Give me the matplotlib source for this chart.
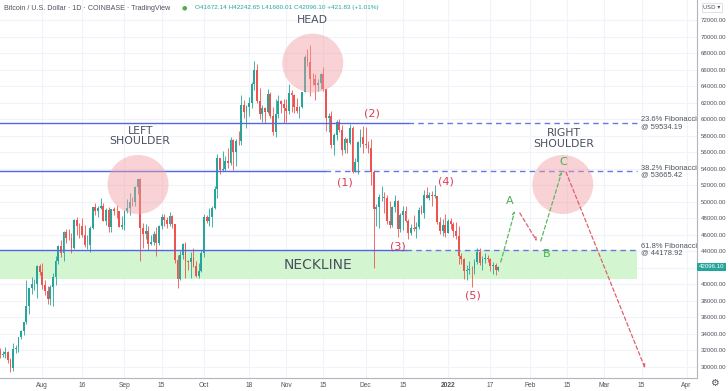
import numpy as np
import matplotlib.pyplot as plt
from matplotlib.patches import Ellipse
from matplotlib.transforms import blended_transform_factory

# 日线数据 BTC/USD (Coinbase), 2021-07-16 起, 横轴用“距 2021-08-01 的天数”
first_open = 31870
close_jul = [31390, 31530, 31790, 30820, 29800, 32130, 32290, 33640, 34270, 35400, 37300, 39550, 40010, 40030, 42240, 41460]
high_jul = [32250, 31950, 32440, 31890, 31060, 32840, 32600, 33650, 34500, 35400, 40550, 39550, 40900, 40630, 42300, 42410]
low_jul = [31020, 31160, 31100, 30480, 29300, 29490, 31720, 31760, 33400, 33900, 35220, 36400, 38800, 39290, 38320, 41060]

close_aug = [39870, 39150, 38190, 39720, 40890, 42850, 44630, 43810, 46290, 45600, 45570, 44430, 47830, 47100, 47020, 45940,
             44700, 44740, 46760, 49320, 48870, 49270, 49530, 47700, 48950, 46880, 49100, 48900, 48830, 46990, 47140]
high_aug = [42600, 40450, 39780, 39960, 41390, 43390, 44700, 45310, 46450, 46680, 46750, 46220, 47880, 48130, 47370, 48060,
            47150, 46000, 47060, 49360, 49800, 49500, 50500, 49850, 49250, 49380, 49170, 49330, 49660, 48900, 48250]
low_aug = [39430, 38690, 37640, 37510, 37360, 39850, 42450, 43290, 42840, 44980, 45370, 43800, 44250, 45950, 45550, 45700,
           44450, 44250, 43950, 46650, 48330, 48110, 49070, 47600, 47150, 46350, 46370, 48420, 48000, 46900, 46720]

close_sep = [48850, 49280, 49990, 49920, 51790, 52700, 46860, 46070, 46390, 44850, 45160, 46030, 44950, 47110, 48140,
             47770, 47290, 48310, 47260, 42980, 40690, 43590, 44900, 42830, 42720, 43190, 42200, 41030, 41540, 43790]
high_sep = [49000, 50380, 51000, 50540, 51900, 52800, 52920, 47370, 47350, 47040, 45960, 46440, 46880, 47230, 48450,
            48470, 48150, 48800, 48370, 47330, 43600, 44000, 44990, 45150, 42980, 43950, 44350, 42780, 42610, 44150]
low_sep = [46540, 48640, 48400, 49500, 49500, 50970, 42830, 44420, 45500, 44160, 44750, 44780, 43430, 44750, 46750,
           47060, 46770, 47080, 46850, 42520, 39600, 40560, 43100, 40740, 41720, 40800, 42100, 40900, 40760, 41460]

close_oct = [48140, 47690, 48200, 49240, 51490, 55340, 53800, 53930, 54970, 54700, 57490, 56000, 57370, 57350, 61670, 60880,
             61530, 61990, 64280, 66000, 62210, 60690, 61300, 60860, 63080, 60330, 58460, 60590, 62260, 61880, 61320]
high_oct = [48450, 48330, 49230, 49490, 51880, 55750, 55340, 56100, 55490, 56560, 57800, 57660, 57650, 58560, 62930, 62330,
            61740, 62690, 64490, 67000, 66640, 63730, 61700, 61480, 63710, 63290, 61500, 62500, 62940, 62360, 62440]
low_oct = [43310, 47450, 47100, 46970, 49060, 50400, 53400, 53680, 53700, 54110, 54430, 53880, 54300, 56850, 56880, 60170,
           58960, 60340, 61350, 63500, 62000, 60000, 59700, 59590, 60700, 60100, 58080, 57810, 60150, 60740, 59500]

close_nov = [61000, 63230, 62940, 61440, 61000, 61530, 63310, 67550, 66940, 64930, 64840, 64150, 64400, 65500, 63600,
             60100, 60370, 56890, 58120, 59720, 58690, 56300, 57580, 57170, 58950, 53660, 54760, 57290, 57810, 57000]
high_nov = [62420, 64290, 63510, 63080, 62600, 61560, 63310, 67780, 68530, 69000, 65600, 65460, 64930, 65540, 66300,
            63600, 60800, 60960, 58340, 59860, 60000, 59270, 57840, 57720, 59400, 59180, 55280, 57400, 58850, 59200]
low_nov = [59700, 60650, 60900, 60700, 60780, 60100, 61400, 63310, 66400, 62800, 64130, 62300, 63400, 63600, 63400,
           58600, 58400, 56500, 55630, 57430, 58500, 55650, 55850, 55900, 57010, 53500, 53630, 53330, 56680, 55880]

close_dec = [56930, 56550, 53630, 49170, 49400, 50570, 50590, 50500, 47660, 47140, 49400, 50100, 46700, 48380, 48870, 47630,
             46200, 46870, 46680, 46890, 48940, 48620, 50820, 50420, 50800, 50700, 50700, 47540, 46470, 47130, 46220]
high_dec = [59100, 57400, 57570, 53880, 49730, 50930, 51920, 51200, 50800, 50100, 49480, 50790, 50230, 48600, 49460, 49420,
            47950, 47320, 48330, 47550, 49300, 49580, 51380, 51820, 51160, 51270, 52050, 50710, 48120, 47900, 48550]
low_dec = [56500, 55900, 52040, 42000, 47100, 46770, 50090, 48640, 47350, 46870, 46900, 48700, 45760, 46300, 46600, 47540,
           45480, 45980, 46420, 45580, 46640, 48460, 48050, 50410, 50200, 49440, 50470, 47320, 46110, 45900, 45680]

close_jan = [47720, 47300, 46450, 45830, 43440, 43100, 41560, 41690, 41880, 41840, 42740, 43920, 42600, 43100, 43180,
             43110, 42250, 42370, 41672.14, 42096.10]
high_jan = [47920, 47990, 47550, 47510, 47070, 43750, 43140, 42300, 42800, 42250, 43100, 44350, 44440, 43450, 43800,
            43500, 43200, 42700, 42580, 42242.65]
low_jan = [46220, 46660, 45700, 45500, 42500, 42440, 40600, 40510, 41250, 39650, 41280, 42430, 42330, 41750, 42600,
           42650, 41560, 41270, 41160, 41660.01]

# 斐波那契水平线
fib_levels = [59534.19, 53665.42, 44178.92]
fib_names = ['23.6%', '38.2%', '61.8%']
fib_solid_end = [137.9, 106.6, 137.0]
fib_end = 224.3
zone_low = 40630

# 预测路径 (天数, 价格)
proj_days = [172.9, 178.2, 180.1, 186.5, 188.0, 195.9, 197.5, 227.3]
proj_prices = [42690, 48870, 48630, 45230, 45230, 53600, 53600, 29840]

# 坐标轴刻度
date_ticks = [0, 15, 31, 45, 61, 78, 92, 106, 122, 136, 153, 169, 184, 198, 212, 226, 243]
date_labels = ['Aug', '16', 'Sep', '15', 'Oct', '18', 'Nov', '15', 'Dec', '15', '2022', '17', 'Feb', '15', 'Mar', '15', 'Apr']
price_ticks = list(range(30000, 72001, 2000))

closes = np.array(close_jul + close_aug + close_sep + close_oct + close_nov + close_dec + close_jan)
highs = np.array(high_jul + high_aug + high_sep + high_oct + high_nov + high_dec + high_jan)
lows = np.array(low_jul + low_aug + low_sep + low_oct + low_nov + low_dec + low_jan)
opens = np.concatenate([[first_open], closes[:-1]])
days = np.arange(-16, -16 + len(closes))

UP = '#26a69a'
DOWN = '#ef5350'
TXT = '#50535e'
SMALL = ['Liberation Sans', 'DejaVu Sans']

fig = plt.figure(figsize=(7.28, 3.91), dpi=100)
ax = fig.add_axes([0, 13.3 / 391, 696.7 / 728, 377.7 / 391])
ax.set_xlim(-15.95, 246.8)
ax.set_ylim(28667, 74448)

# 网格
for t in date_ticks:
    ax.axvline(t, color='#f0f3fa', lw=0.8, zorder=0)
for p in price_ticks:
    ax.axhline(p, color='#f0f3fa', lw=0.8, zorder=0)

# 颈线区域
ax.fill_between([-16, fib_end], zone_low, fib_levels[2], color='#d3f5cf', lw=0, zorder=1)

# K线
cols = np.where(closes >= opens, UP, DOWN)
hi = np.maximum(highs, np.maximum(opens, closes))
lo = np.minimum(lows, np.minimum(opens, closes))
ax.vlines(days, lo, hi, colors=cols, lw=0.6, zorder=2)
body_lo = np.minimum(opens, closes)
body_h = np.maximum(np.abs(closes - opens), 60)
ax.bar(days, body_h, bottom=body_lo, width=0.7, color=cols, lw=0, zorder=2)

# 斐波那契线
for lvl, name, s_end in zip(fib_levels, fib_names, fib_solid_end):
    ax.plot([-16, s_end], [lvl, lvl], color='#5466e0', lw=1.0, zorder=3)
    ax.plot([s_end, fib_end], [lvl, lvl], color='#6677e6', lw=1.0, ls=(0, (4, 3)), zorder=3)
    ax.text(fib_end + 1.4, lvl, f'{name} Fibonacci\n@ {lvl:.2f}', fontsize=5.4, color=TXT, family=SMALL,
            va='center', ha='left', linespacing=0.95, zorder=5)

# 头肩椭圆
for cx, cy in [(36.1, 52085), (102.0, 66800), (196.3, 52085)]:
    ax.add_patch(Ellipse((cx, cy), 23, 7150, facecolor='#f29ca2', edgecolor='none', alpha=0.45, zorder=4))

# 预测路径
for i in range(0, len(proj_days), 2):
    c = '#5cb860' if i % 4 == 0 else '#e0606e'
    ax.annotate('', xy=(proj_days[i + 1], proj_prices[i + 1]), xytext=(proj_days[i], proj_prices[i]),
                arrowprops=dict(arrowstyle='->', color=c, lw=0.9, linestyle=(0, (3, 2)),
                                shrinkA=0, shrinkB=0, mutation_scale=5), zorder=5)

# 文字标注
big = dict(fontsize=7.8, color='#4a5061', ha='center', va='center', zorder=6)
ax.text(102.0, 72024, 'HEAD', **big)
ax.text(36.9, 57960, 'LEFT\nSHOULDER', linespacing=1.05, **big)
ax.text(196.7, 57660, 'RIGHT\nSHOULDER', linespacing=1.05, **big)
ax.text(104.0, 42330, 'NECKLINE', fontsize=10, color='#4a5061', ha='center', va='center', zorder=6)

wave_labels = ['(1)', '(2)', '(3)', '(4)', '(5)']
wave_x = [114.2, 124.2, 134.1, 152.2, 162.3]
wave_y = [52300, 60715, 44545, 52425, 38690]
for s, x, y in zip(wave_labels, wave_x, wave_y):
    ax.text(x, y, s, fontsize=8, color='#dc3a52', ha='center', va='center', zorder=6)

abc_labels = ['A', 'B', 'C']
abc_x = [176.4, 190.2, 196.5]
abc_y = [50085, 43624, 54850]
for s, x, y in zip(abc_labels, abc_x, abc_y):
    ax.text(x, y, s, fontsize=8, color='#4caf50', ha='center', va='center', zorder=6)

# 坐标轴
for sp in ['top', 'left']:
    ax.spines[sp].set_visible(False)
for sp in ['right', 'bottom']:
    ax.spines[sp].set_color('#b2b5be')
    ax.spines[sp].set_linewidth(0.8)
ax.yaxis.tick_right()
ax.set_yticks(price_ticks)
# 42000 的刻度被当前价格标签遮住
ax.set_yticklabels(['' if p == 42000 else f'{p:.2f}' for p in price_ticks], family=SMALL)
ax.set_xticks(date_ticks)
ax.set_xticklabels(date_labels, family=SMALL)
ax.tick_params(axis='y', length=0, pad=3, labelsize=4.4, labelcolor=TXT)
ax.tick_params(axis='x', length=0, pad=3, labelsize=4.8, labelcolor=TXT)
ax.get_xticklabels()[10].set_fontweight('bold')

# 当前价格标签
tr = blended_transform_factory(ax.transAxes, ax.transData)
ax.text(1.003, closes[-1], f'{closes[-1]:.2f}', transform=tr, fontsize=4.4, color='white', va='center', ha='left',
        family=SMALL, bbox=dict(boxstyle='square,pad=0.3', fc=UP, ec='none'), clip_on=False, zorder=7)

# 顶部标题
fig.text(4 / 728, 1 - 8 / 391, 'Bitcoin / U.S. Dollar · 1D · COINBASE · TradingView', fontsize=5.1,
         color=TXT, va='center', ha='left', family=SMALL)
fig.text(184 / 728, 1 - 8 / 391, '●', fontsize=4.5, color='#4caf50', va='center', ha='center')
fig.text(195 / 728, 1 - 8 / 391, 'O41672.14 H42242.65 L41660.01 C42096.10 +421.83 (+1.01%)', fontsize=4.6,
         color=UP, va='center', ha='left', family=SMALL)
fig.text(712 / 728, 1 - 7.5 / 391, 'USD ▾', fontsize=4.2, color=TXT, va='center', ha='center',
         bbox=dict(boxstyle='square,pad=0.3', fc='white', ec='#d1d4dc', lw=0.5))
fig.text(714 / 728, 1 - 383 / 391, '⚙', fontsize=7, color=TXT, va='center', ha='center')

fig.savefig('out.png', dpi=100, facecolor='white')
